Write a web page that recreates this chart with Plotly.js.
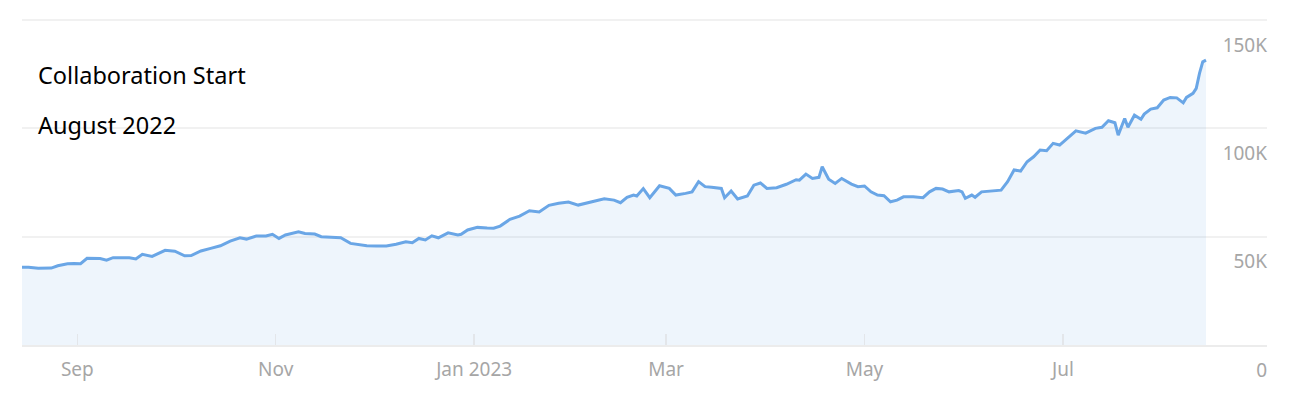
<!DOCTYPE html>
<html>
<head>
<meta charset="utf-8">
<script src="https://cdn.plot.ly/plotly-3.0.1.min.js"></script>
<style>
  html, body { margin: 0; padding: 0; background: #fff; }
  #chart { width: 1296px; height: 406px; }
</style>
</head>
<body>
<div id="chart"></div>
<script>
// Organic traffic
const dates = [
  "2022-08-15","2022-08-17","2022-08-20","2022-08-22","2022-08-24","2022-08-26","2022-08-29","2022-08-31",
  "2022-09-02","2022-09-04","2022-09-06","2022-09-08","2022-09-10","2022-09-12","2022-09-15","2022-09-17",
  "2022-09-19","2022-09-21","2022-09-24","2022-09-28","2022-10-01","2022-10-04","2022-10-06","2022-10-09",
  "2022-10-12","2022-10-15","2022-10-18","2022-10-21","2022-10-23","2022-10-26","2022-10-29","2022-10-31",
  "2022-11-02","2022-11-04","2022-11-08","2022-11-10","2022-11-13","2022-11-15","2022-11-18","2022-11-21",
  "2022-11-24","2022-11-26","2022-11-29","2022-12-02","2022-12-05","2022-12-08","2022-12-11","2022-12-13",
  "2022-12-15","2022-12-17","2022-12-19","2022-12-21","2022-12-24","2022-12-27","2022-12-28","2022-12-30",
  "2023-01-02","2023-01-05","2023-01-07","2023-01-09","2023-01-12","2023-01-15","2023-01-18","2023-01-21",
  "2023-01-24","2023-01-27","2023-01-30","2023-02-02","2023-02-05","2023-02-07","2023-02-10","2023-02-13",
  "2023-02-15","2023-02-17","2023-02-19","2023-02-20","2023-02-22","2023-02-24","2023-02-27","2023-03-02",
  "2023-03-04","2023-03-07","2023-03-09","2023-03-11","2023-03-13","2023-03-15","2023-03-18","2023-03-19",
  "2023-03-21","2023-03-23","2023-03-26","2023-03-28","2023-03-30","2023-04-01","2023-04-04","2023-04-07",
  "2023-04-10","2023-04-11","2023-04-13","2023-04-15","2023-04-17","2023-04-18","2023-04-20","2023-04-22",
  "2023-04-24","2023-04-27","2023-04-29","2023-05-01","2023-05-03","2023-05-05","2023-05-07","2023-05-09",
  "2023-05-11","2023-05-13","2023-05-16","2023-05-19","2023-05-21","2023-05-23","2023-05-25","2023-05-27",
  "2023-05-30","2023-05-31","2023-06-01","2023-06-03","2023-06-04","2023-06-06","2023-06-09","2023-06-12",
  "2023-06-14","2023-06-16","2023-06-18","2023-06-20","2023-06-22","2023-06-24","2023-06-26","2023-06-28",
  "2023-06-30","2023-07-03","2023-07-05","2023-07-08","2023-07-11","2023-07-13","2023-07-15","2023-07-17",
  "2023-07-18","2023-07-20","2023-07-21","2023-07-23","2023-07-25","2023-07-26","2023-07-28","2023-07-30",
  "2023-08-01","2023-08-03","2023-08-05","2023-08-07","2023-08-08","2023-08-10","2023-08-11","2023-08-12",
  "2023-08-13","2023-08-14"
];
const traffic = [
  35900,35900,35400,35400,35500,36600,37500,37600,
  37500,40000,40000,39900,39200,40300,40300,40300,
  39700,41900,40900,43700,43300,41200,41300,43400,
  44600,45800,48000,49500,48900,50300,50300,51100,
  49200,50800,52300,51500,51200,50000,49700,49500,
  46900,46500,45800,45700,45700,46500,47700,47200,
  49200,48500,50400,49500,51800,50800,51100,53100,
  54300,54000,53900,54900,58000,59500,62000,61400,
  64500,65400,66000,64600,65700,66100,67500,66900,
  65700,68200,69200,68800,72200,68000,73500,72300,
  69200,70000,70700,75400,73100,72800,72300,68000,
  71100,67400,68800,73800,74800,72300,72600,74200,
  76300,76100,78900,76900,77400,82300,76500,74600,
  76900,74300,73100,73400,70700,69200,68900,66100,
  66900,68400,68400,68000,70700,72300,72000,70700,
  71300,70700,67700,69200,68200,70700,71100,71500,
  75400,80800,80300,84600,86900,90000,89700,93100,
  92300,96100,98900,97800,100000,100500,103500,102600,
  96900,104600,100500,106100,104200,106600,108900,109500,
  113100,114300,114100,111800,114300,116200,118500,125400,
  130700,131500
];

// Axis ticks
const xTickVals = ["2022-09-01","2022-11-01","2023-01-01","2023-03-01","2023-05-01","2023-07-01"];
const xTickText = ["Sep","Nov","Jan 2023","Mar","May","Jul"];
const yTickVals = [0, 50000, 100000, 150000];
const yTickText = ["0", "50K", "100K", "150K"];

// Note text
const noteLines = ["Collaboration Start", "August 2022"];

const trace = {
  type: "scatter",
  mode: "lines",
  x: dates,
  y: traffic,
  line: { color: "#6aa6e6", width: 3, shape: "linear" },
  fill: "tozeroy",
  fillcolor: "rgba(100,160,230,0.11)",
  hoverinfo: "x+y"
};

const layout = {
  width: 1296,
  height: 406,
  margin: { l: 22, r: 29, t: 19, b: 61 },
  paper_bgcolor: "#ffffff",
  plot_bgcolor: "#ffffff",
  showlegend: false,
  font: { family: "Noto Sans, Open Sans, sans-serif", color: "#a6a6a6", size: 19 },
  xaxis: {
    type: "date",
    range: ["2022-08-15", "2023-09-01 18:00"],
    tickvals: xTickVals,
    ticktext: xTickText,
    ticks: "inside",
    ticklen: 11,
    tickwidth: 1.5,
    tickcolor: "#e3e6ea",
    ticklabelstandoff: 6,
    showgrid: false,
    showline: true,
    linecolor: "#ececec",
    linewidth: 2,
    zeroline: false,
    tickfont: { size: 19, color: "#a6a6a6" },
    fixedrange: true
  },
  yaxis: {
    side: "right",
    range: [0, 150500],
    tickvals: yTickVals,
    ticktext: yTickText,
    ticklabelposition: "inside",
    ticklabelshift: 25,
    ticklabelstandoff: -3,
    ticklabeloverflow: "allow",
    showgrid: true,
    gridcolor: "#f1f1f1",
    gridwidth: 2,
    zeroline: false,
    showline: false,
    tickfont: { size: 19, color: "#a6a6a6" },
    fixedrange: true
  },
  annotations: [
    {
      xref: "paper", yref: "paper", x: 0.0112, y: 0.8277,
      xanchor: "left", yanchor: "middle", showarrow: false,
      text: noteLines[0],
      font: { family: "Noto Sans, Open Sans, sans-serif", size: 23.5, color: "#000000" }
    },
    {
      xref: "paper", yref: "paper", x: 0.0112, y: 0.6738,
      xanchor: "left", yanchor: "middle", showarrow: false,
      text: noteLines[1],
      font: { family: "Noto Sans, Open Sans, sans-serif", size: 23.5, color: "#000000" }
    }
  ]
};

Plotly.newPlot("chart", [trace], layout, { displayModeBar: false, staticPlot: true });
</script>
</body>
</html>
